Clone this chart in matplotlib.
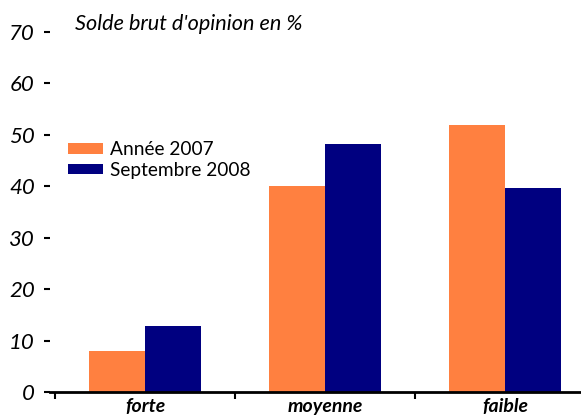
import matplotlib
matplotlib.use("Agg")
import matplotlib.pyplot as plt
import numpy as np

categories = ["forte", "moyenne", "faible"]
series_names = ["Année 2007", "Septembre 2008"]
values_2007 = [8.0, 40.0, 52.0]
values_2008 = [12.8, 48.2, 39.6]
yticks = [0, 10, 20, 30, 40, 50, 60, 70]
title = "Solde brut d'opinion en %"

colors = ["#FF8040", "#000080"]

plt.rcParams['font.family'] = ['Lato', 'DejaVu Sans']

fig = plt.figure(figsize=(5.81, 4.18), dpi=100)
ax = fig.add_axes([50/581, 1-392/418, 1-50/581, (392-32)/418])

x = np.arange(len(categories))
w = 0.31
ax.bar(x - w/2, values_2007, w, color=colors[0], label=series_names[0], zorder=2)
ax.bar(x + w/2, values_2008, w, color=colors[1], label=series_names[1], zorder=2)

for s in ["top", "right", "left"]:
    ax.spines[s].set_visible(False)
ax.spines["bottom"].set_linewidth(2)
ax.spines["bottom"].set_zorder(3)

ax.set_yticks(yticks)
ax.set_yticklabels([str(v) for v in yticks], fontsize=16, fontstyle='italic')
ax.tick_params(axis='y', length=4, width=1.5, pad=7)

ax.set_xticks([-0.5, 0.5, 1.5])
ax.set_xticklabels([])
ax.tick_params(axis='x', which='major', length=5, width=1.5, direction='out')
ax.set_xticks(x, minor=True)
ax.set_xticklabels(categories, minor=True, fontsize=14, fontstyle='italic', fontweight='bold')
ax.tick_params(axis='x', which='minor', length=0, pad=4)

ax.set_ylim(0, 70)
ax.set_xlim(-0.528, 2.422)

fig.text(75/581, 1-24/418, title, fontsize=15.6, fontstyle='italic', va='center', ha='left')

leg = ax.legend(loc='upper left', bbox_to_anchor=(18/531, 1-(141-32)/360), frameon=False,
                fontsize=13.8, handlelength=1.8, handleheight=0.5, handletextpad=0.37,
                labelspacing=0.2, borderaxespad=0, borderpad=0)

fig.savefig("out.png", dpi=100)
